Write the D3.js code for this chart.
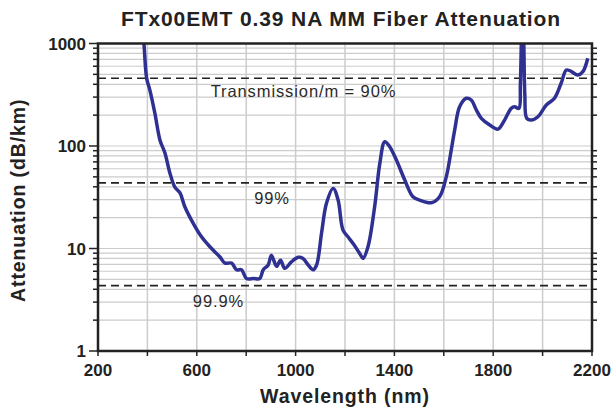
<!DOCTYPE html>
<html>
<head>
<meta charset="utf-8">
<script src="https://cdn.jsdelivr.net/npm/d3@7"></script>
<style>
  body { margin: 0; background: #fff; }
  text { font-family: "Liberation Sans", Arial, sans-serif; }
</style>
</head>
<body>
<div id="chart"></div>
<script>
// Dati
var wavelength = [380, 386, 397, 410, 430, 451, 471, 491, 511, 532, 552, 585, 619, 653, 693, 714, 741, 761, 781, 801,
  830, 855, 869, 889, 902, 923, 939, 956, 983, 1010, 1030, 1051, 1071, 1085, 1105, 1125, 1152, 1172, 1192, 1212,
  1235, 1260, 1273, 1293, 1320, 1341, 1361, 1381, 1408, 1442, 1475, 1502, 1550, 1583, 1610, 1630, 1644, 1664, 1691,
  1711, 1732, 1752, 1786, 1819, 1846, 1873, 1887, 1904, 1910, 1915, 1919, 1923, 1928, 1936, 1954, 1981, 2015, 2048,
  2075, 2096, 2112, 2143, 2163, 2183];
var attenuation = [1400, 1000, 457, 351, 210, 114, 85.5, 54.6, 39.8, 34.8, 25.4, 17.7, 13.0, 10.4, 8.3, 7.2, 7.2, 6.2, 6.2, 5.1,
  5.1, 5.1, 6.2, 6.9, 8.6, 6.7, 7.7, 6.4, 7.4, 8.2, 8.0, 6.9, 6.2, 6.9, 14.1, 27.6, 38.6, 29.7, 15.1, 13.0,
  11.0, 8.9, 8.0, 10.4, 25.6, 67.7, 110, 98.4, 73, 46.5, 32, 29.7, 28, 32, 50, 91, 143, 241, 292,
  281, 224, 186, 160, 146, 179, 233, 241, 233, 400, 1200, 1600, 1200, 320, 186, 179, 193, 251, 292,
  409, 551, 540, 493, 531, 718];

var yTicks = [1, 10, 100, 1000];
var xTicks = [200, 600, 1000, 1400, 1800, 2200];
// Linee di trasmissione: 90%, 99%, 99.9% per metro
var transmission = [0.9, 0.99, 0.999];
var transmissionLabels = ["Transmission/m = 90%", "99%", "99.9%"];

var margin = {top: 43.5, right: 20, bottom: 57, left: 98};
var width = 612 - margin.left - margin.right;
var height = 408 - margin.top - margin.bottom;

var svg = d3.select("#chart")
  .append("svg")
  .attr("width", 612)
  .attr("height", 408)
  .append("g")
  .attr("transform", "translate(" + margin.left + "," + margin.top + ")");

var x = d3.scaleLinear().domain([200, 2200]).range([0, width]);
var y = d3.scaleLog().domain([1, 1000]).range([height, 0]);

// Griglia orizzontale (2..9 per decade)
var minor = [];
for (var d = 1; d < 1000; d *= 10) {
  for (var k = 2; k <= 9; k++) minor.push(d * k);
}
svg.append("g")
  .selectAll("line")
  .data(minor.concat([10, 100]))
  .enter()
  .append("line")
  .attr("x1", 0).attr("x2", width)
  .attr("y1", function(d) { return y(d); })
  .attr("y2", function(d) { return y(d); })
  .attr("stroke", "#cccccc")
  .attr("stroke-width", 1.2);

// Griglia verticale
svg.append("g")
  .selectAll("line")
  .data(d3.range(400, 2200, 200))
  .enter()
  .append("line")
  .attr("x1", function(d) { return x(d); })
  .attr("x2", function(d) { return x(d); })
  .attr("y1", 0).attr("y2", height)
  .attr("stroke", "#cccccc")
  .attr("stroke-width", 1.5);

// Linee tratteggiate
var dB = transmission.map(function(t) { return -10 * Math.log10(t) * 1000; });
svg.append("g")
  .selectAll("line")
  .data(dB)
  .enter()
  .append("line")
  .attr("x1", 0).attr("x2", width)
  .attr("y1", function(d) { return y(d); })
  .attr("y2", function(d) { return y(d); })
  .attr("stroke", "#222")
  .attr("stroke-width", 1.6)
  .attr("stroke-dasharray", "8,5");

var labelX = [303.5, 272, 218.5];
var labelDy = [19, 21, 21];
svg.append("g")
  .selectAll("text")
  .data(dB)
  .enter()
  .append("text")
  .attr("x", function(d, i) { return labelX[i] - margin.left; })
  .attr("y", function(d, i) { return y(d) + labelDy[i]; })
  .attr("text-anchor", "middle")
  .attr("font-size", "16.5px")
  .attr("letter-spacing", "0.9px")
  .attr("fill", "#2a2a2a")
  .text(function(d, i) { return transmissionLabels[i]; });

// Curva
svg.append("clipPath")
  .attr("id", "clip")
  .append("rect")
  .attr("width", width)
  .attr("height", height);

var line = d3.line()
  .x(function(d) { return x(d[0]); })
  .y(function(d) { return y(d[1]); })
  .curve(d3.curveCatmullRom.alpha(0.5));

svg.append("path")
  .datum(d3.zip(wavelength, attenuation))
  .attr("clip-path", "url(#clip)")
  .attr("fill", "none")
  .attr("stroke", "#2e3192")
  .attr("stroke-width", 3.5)
  .attr("stroke-linejoin", "round")
  .attr("d", line);

// tacche asse y sinistra e destra
var tickData = minor.concat(yTicks);
[0, width].forEach(function(x0, side) {
  svg.append("g")
    .selectAll("line")
    .data(tickData)
    .enter()
    .append("line")
    .attr("x1", x0)
    .attr("x2", function(d) {
      var len = yTicks.indexOf(d) >= 0 ? 9 : 5;
      return side == 0 ? x0 - len : x0 + (yTicks.indexOf(d) >= 0 ? 0 : 5);
    })
    .attr("y1", function(d) { return y(d); })
    .attr("y2", function(d) { return y(d); })
    .attr("stroke", "#222")
    .attr("stroke-width", 1.5);
});

svg.append("g")
  .selectAll("text")
  .data(yTicks)
  .enter()
  .append("text")
  .attr("x", -12)
  .attr("y", function(d) { return y(d) + 6; })
  .attr("text-anchor", "end")
  .attr("font-size", "17px")
  .attr("font-weight", "bold")
  .attr("fill", "#222")
  .text(function(d) { return d; });

// tacche asse x
svg.append("g")
  .selectAll("line")
  .data(d3.range(200, 2201, 200))
  .enter()
  .append("line")
  .attr("x1", function(d) { return x(d); })
  .attr("x2", function(d) { return x(d); })
  .attr("y1", height)
  .attr("y2", height + 5)
  .attr("stroke", "#222")
  .attr("stroke-width", 1.5);

svg.append("g")
  .selectAll("text")
  .data(xTicks)
  .enter()
  .append("text")
  .attr("x", function(d) { return x(d); })
  .attr("y", height + 25)
  .attr("text-anchor", "middle")
  .attr("font-size", "17px")
  .attr("font-weight", "bold")
  .attr("fill", "#222")
  .text(function(d) { return d; });

// Cornice
svg.append("rect")
  .attr("width", width)
  .attr("height", height)
  .attr("fill", "none")
  .attr("stroke", "#222")
  .attr("stroke-width", 2.5);

// Titoli
svg.append("text")
  .attr("x", 341 - margin.left)
  .attr("y", -18)
  .attr("text-anchor", "middle")
  .attr("font-size", "21px")
  .attr("font-weight", "bold")
  .attr("letter-spacing", "0.9px")
  .attr("fill", "#222")
  .text("FTx00EMT 0.39 NA MM Fiber Attenuation");

svg.append("text")
  .attr("x", 345 - margin.left)
  .attr("y", height + 52)
  .attr("text-anchor", "middle")
  .attr("font-size", "19.5px")
  .attr("font-weight", "bold")
  .attr("letter-spacing", "0.9px")
  .attr("fill", "#222")
  .text("Wavelength (nm)");

svg.append("text")
  .attr("transform", "translate(" + (-73) + "," + (height / 2 + 3) + ") rotate(-90)")
  .attr("text-anchor", "middle")
  .attr("font-size", "19.5px")
  .attr("font-weight", "bold")
  .attr("letter-spacing", "0.9px")
  .attr("fill", "#222")
  .text("Attenuation (dB/km)");
</script>
</body>
</html>
